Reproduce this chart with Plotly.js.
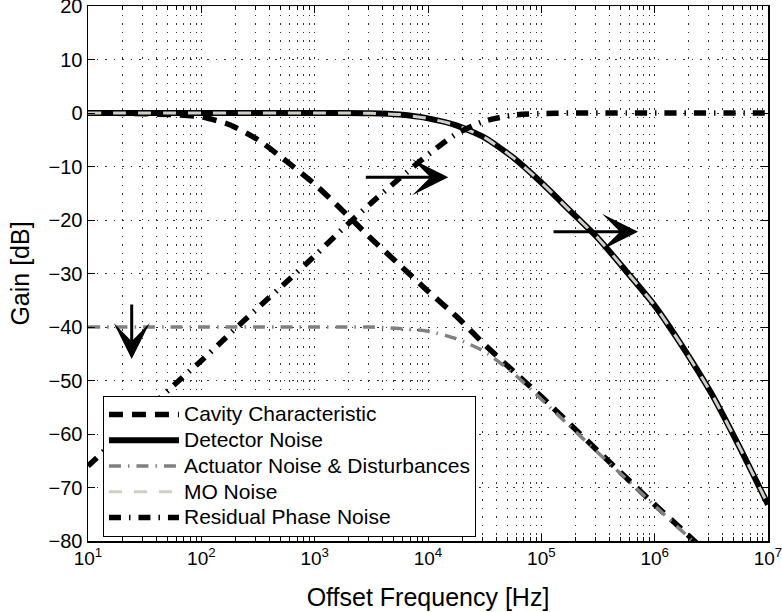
<!DOCTYPE html>
<html><head><meta charset="utf-8">
<script src="https://cdn.plot.ly/plotly-3.0.1.min.js"></script>
<style>html,body{margin:0;padding:0;background:#fff}</style>
</head><body><div id="chart" style="width:782px;height:612px"></div>
<script>
// Offset frequency samples [Hz]
const freqHz = [10, 17.78, 31.62, 56.23, 100, 177.8, 316.2, 562.3, 1000, 1778, 3162, 5623,
  1e4, 1.778e4, 3.162e4, 5.623e4, 1e5, 1.778e5, 3.162e5, 5.623e5, 1e6, 1.778e6, 3.162e6, 5.623e6, 1e7];
// Gains [dB]
const cavityDb   = [0, -0.05, -0.15, -0.3, -0.7, -2.2, -5.0, -9.0, -13.3, -18.3, -23.5, -28.4,
  -33.3, -38.0, -43.3, -48.2, -53.0, -58.1, -63.2, -68.2, -73.2, -78.0, -83.0, -88.0, -93.0];
const detectorDb = [0, 0, 0, 0, 0, 0, 0, 0, 0, 0, -0.05, -0.3,
  -1.0, -2.3, -4.6, -8.3, -13.0, -18.2, -23.4, -29.6, -36.0, -43.8, -52.4, -62.5, -73.2];
const actuatorDb = [-40, -40, -40, -40, -40, -40, -40, -40, -40, -40, -40, -40.3,
  -40.8, -42.2, -44.6, -48.6, -53.5, -58.5, -63.5, -68.4, -73.4, -78.3, -83.3, -88.3, -93.3];
const moDb       = [0, 0, 0, 0, 0, 0, 0, 0, 0, 0, -0.05, -0.3,
  -1.0, -2.3, -4.6, -8.3, -13.0, -18.2, -23.4, -29.6, -36.0, -43.8, -52.4, -62.5, -73.2];
const residualDb = [-66, -61, -56, -51, -46.3, -41.3, -36.4, -31.6, -26.7, -21.6, -16.8, -12.2,
  -7.8, -3.9, -1.5, -0.4, -0.1, 0, 0, 0, 0, 0, 0, 0, 0];

const seriesNames = ['Cavity Characteristic', 'Detector Noise', 'Actuator Noise &amp; Disturbances', 'MO Noise', 'Residual Phase Noise'];

// Arrows (tail -> head)
const arrowTailHz = [24.3, 2742, 124200];
const arrowHeadHz = [24.3, 15100, 712900];
const arrowTailDb = [-35.5, -12, -22.2];
const arrowHeadDb = [-46, -12, -22.2];

const xTickVals = [1e1, 1e2, 1e3, 1e4, 1e5, 1e6, 1e7];
const xTickText = ['10<sup>1</sup>', '10<sup>2</sup>', '10<sup>3</sup>', '10<sup>4</sup>', '10<sup>5</sup>', '10<sup>6</sup>', '10<sup>7</sup>'];

const minorVals = [];
for (let d = 1; d < 7; d++) for (let m = 2; m <= 9; m++) minorVals.push(m * Math.pow(10, d));

const FONT = 'Liberation Sans, Arial, Helvetica, sans-serif';
const gridDash = '1.5px,7px';

const styles = [
  {color: '#000000', width: 5.5, dash: '14px,9px'},
  {color: '#000000', width: 6, dash: 'solid'},
  {color: '#808080', width: 3.5, dash: '12px,7px,1.5px,7px'},
  {color: '#d2cec6', width: 3, dash: '13px,12px'},
  {color: '#000000', width: 5.5, dash: '12px,8px,1.5px,8px'}
];
const ys = [cavityDb, detectorDb, actuatorDb, moDb, residualDb];

const traces = ys.map((y, i) => ({
  type: 'scatter', mode: 'lines', x: freqHz, y: y,
  name: '<span style="font-size:21px">' + seriesNames[i] + '</span>',
  line: Object.assign({shape: 'spline', smoothing: 0.6}, styles[i])
}));

const annotations = arrowTailHz.map((t, i) => ({
  xref: 'x', yref: 'y', axref: 'x', ayref: 'y',
  x: Math.log10(arrowHeadHz[i]), y: arrowHeadDb[i],
  ax: Math.log10(t), ay: arrowTailDb[i],
  text: '', showarrow: true, arrowhead: 3, arrowsize: 2, arrowwidth: 3, arrowcolor: '#000', standoff: 0
}));

const layout = {
  width: 782, height: 612,
  margin: {l: 88, r: 14, t: 6, b: 70.5},
  paper_bgcolor: '#fff', plot_bgcolor: '#fff',
  font: {family: FONT, size: 20, color: '#000'},
  showlegend: true,
  legend: {
    x: 0.022, y: 0.2717, xanchor: 'left', yanchor: 'top',
    bgcolor: '#fff', bordercolor: '#000', borderwidth: 1,
    font: {family: FONT, size: 17.5, color: '#000'},
    traceorder: 'normal', itemwidth: 70
  },
  xaxis: {
    type: 'log', range: [1, 7],
    tickmode: 'array', tickvals: xTickVals, ticktext: xTickText,
    ticks: 'inside', ticklen: 7, tickwidth: 1, tickcolor: '#000',
    showline: true, linecolor: '#000', linewidth: 1.5, mirror: 'ticks',
    showgrid: true, gridcolor: '#333', gridwidth: 1, griddash: gridDash,
    zeroline: false, ticklabeloverflow: 'allow',
    minor: {tickmode: 'array', tickvals: minorVals, ticks: 'inside', ticklen: 4, tickcolor: '#000',
            showgrid: true, gridcolor: '#333', gridwidth: 1, griddash: gridDash},
    title: {text: 'Offset Frequency [Hz]', font: {family: FONT, size: 25}, standoff: 20},
    tickfont: {family: FONT, size: 19}
  },
  yaxis: {
    range: [-80, 20], dtick: 10, tick0: 0,
    ticks: 'inside', ticklen: 7, tickwidth: 1, tickcolor: '#000',
    showline: true, linecolor: '#000', linewidth: 1.5, mirror: 'ticks',
    showgrid: true, gridcolor: '#333', gridwidth: 1, griddash: gridDash,
    zeroline: false, ticklabeloverflow: 'allow',
    title: {text: 'Gain [dB]', font: {family: FONT, size: 25}, standoff: 12},
    tickfont: {family: FONT, size: 20}
  },
  annotations: annotations
};

Plotly.newPlot('chart', traces, layout, {displayModeBar: false, staticPlot: true});
</script>
</body></html>
